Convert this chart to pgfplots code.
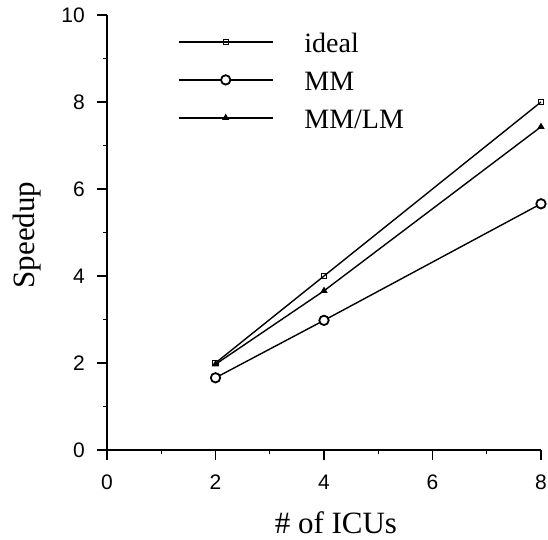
\documentclass[border=0pt]{standalone}
\usepackage{fontspec}
\setmainfont{Liberation Serif}
\newfontfamily\tickfont{Liberation Sans}
\usepackage{pgfplots}
\pgfplotsset{compat=1.18}

\begin{document}
\begin{tikzpicture}
\begin{axis}[
  at={(0,0)}, anchor=south west,
  scale only axis, width=434bp, height=435bp,
  xmin=0, xmax=8, ymin=0, ymax=10,
  clip=false,
  axis x line*=bottom, axis y line*=left,
  axis line style={line width=1.6bp, -},
  xtick={0,2,4,6,8}, ytick={0,2,4,6,8,10},
  minor x tick num=1, minor y tick num=1,
  tick align=outside,
  major tick length=10bp, minor tick length=4bp,
  every tick/.style={black, line width=1.2bp},
  tick label style={font=\tickfont\fontsize{21bp}{21bp}\selectfont, inner sep=0pt},
  xticklabel style={yshift=-15bp},
  yticklabel style={xshift=-12bp},
  /pgf/number format/assume math mode=true,
  xlabel={\# of ICUs}, ylabel={Speedup},
  label style={font=\fontsize{31bp}{31bp}\selectfont, inner sep=0pt},
  xlabel style={at={(axis description cs:0.5275,-0.1667)}, anchor=center},
  ylabel style={at={(axis description cs:-0.1832,0.4943)}, anchor=center},
  legend style={at={(axis description cs:0.1636,0.960)}, anchor=north west,
    draw=none, fill=none, inner sep=0pt, outer sep=0pt,
    row sep=12bp, column sep=0bp,
    font=\fontsize{28bp}{28bp}\selectfont,
    nodes={inner sep=0pt, text height=20bp, text depth=6bp},
    cells={anchor=west}},
  legend image code/.code={
    \draw[mark repeat=2, mark phase=2, #1] plot coordinates {(0bp,3.5bp) (47bp,3.5bp) (94bp,3.5bp)};
    \path (125bp,0bp);
  },
]
\addplot[line width=1.4bp, mark=square, mark size=2.6bp, mark options={line width=1bp}]
  coordinates {(2,2) (4,4) (8,8)};
\addplot[line width=1.4bp, mark=*, mark size=4.7bp, mark options={fill=white, line width=1.8bp}]
  coordinates {(2,1.66) (4,2.98) (8,5.66)};
\addplot[line width=1.4bp, mark=triangle*, mark size=2.8bp]
  coordinates {(2,1.97) (4,3.66) (8,7.43)};
\legend{ideal, MM, MM/LM}
\end{axis}
\pgfresetboundingbox
\path[use as bounding box] (-107bp,-90bp) rectangle (441bp,450bp);
\end{tikzpicture}
\end{document}
